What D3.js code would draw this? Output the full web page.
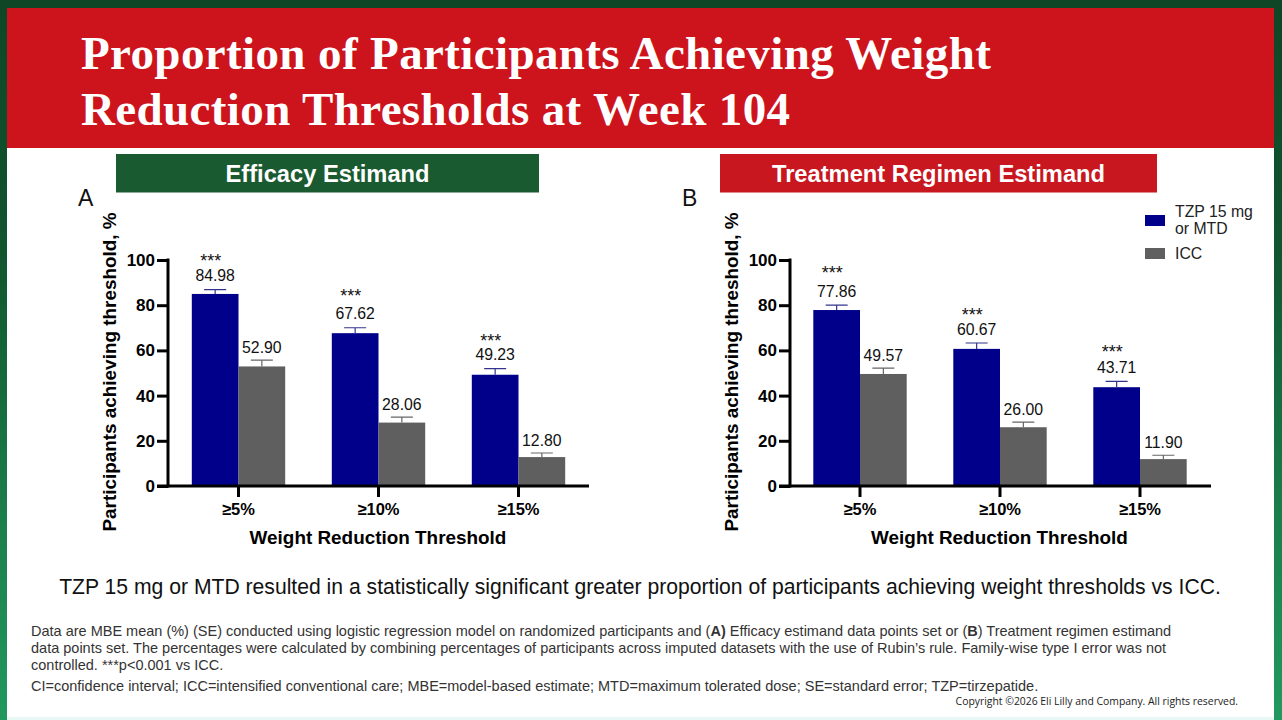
<!DOCTYPE html>
<html>
<head>
<meta charset="utf-8">
<script src="https://cdn.jsdelivr.net/npm/d3@7"></script>
<style>
html, body { margin: 0; padding: 0; background: #fff; overflow: hidden; }
svg { display: block; }
text { font-family: "Liberation Sans", Arial, sans-serif; }
</style>
</head>
<body>
<svg id="vis" width="1282" height="720"></svg>
<script>
const thresholds = ["≥5%", "≥10%", "≥15%"];
const yTicks = [0, 20, 40, 60, 80, 100];

const effTzp = [84.98, 67.62, 49.23];
const effIcc = [52.90, 28.06, 12.80];
const effTzpSe = [1.9, 2.4, 2.7];
const effIccSe = [2.8, 2.4, 1.8];

const regTzp = [77.86, 60.67, 43.71];
const regIcc = [49.57, 26.00, 11.90];
const regTzpSe = [2.2, 2.6, 2.6];
const regIccSe = [2.6, 2.3, 1.7];

const titleLines = ["Proportion of Participants Achieving Weight", "Reduction Thresholds at Week 104"];
const keyMessage = "TZP 15 mg or MTD resulted in a statistically significant greater proportion of participants achieving weight thresholds vs ICC.";
const abbreviations = "CI=confidence interval; ICC=intensified conventional care; MBE=model-based estimate; MTD=maximum tolerated dose; SE=standard error; TZP=tirzepatide.";
const copyright = "Copyright ©2026 Eli Lilly and Company. All rights reserved.";

const blue = "#00008b", grey = "#5f5f5f";
const svg = d3.select("#vis");

// frame
const defs = svg.append("defs");
const grad = defs.append("linearGradient").attr("id", "frame").attr("x1", 0).attr("x2", 0).attr("y1", 0).attr("y2", 1);
grad.append("stop").attr("offset", 0).attr("stop-color", "#0e4626");
grad.append("stop").attr("offset", 0.35).attr("stop-color", "#11552f");
grad.append("stop").attr("offset", 0.75).attr("stop-color", "#1b824d");
grad.append("stop").attr("offset", 1).attr("stop-color", "#21995e");
svg.append("rect").attr("width", 1282).attr("height", 720).attr("fill", "url(#frame)");
svg.append("rect").attr("x", 7).attr("y", 8).attr("width", 1267).attr("height", 710).attr("fill", "#fff");
svg.append("rect").attr("x", 7).attr("y", 717).attr("width", 1267).attr("height", 3).attr("fill", "#e8f8f4");
svg.append("rect").attr("x", 7).attr("y", 8).attr("width", 1267).attr("height", 140).attr("fill", "#cd141c");

svg.selectAll(".title").data(titleLines).join("text")
    .attr("class", "title")
    .attr("x", 81).attr("y", (d, i) => 69 + i * 56)
    .attr("fill", "#fff")
    .style("font-family", "'Liberation Serif', serif")
    .style("font-weight", "bold").style("font-size", "47px").style("letter-spacing", "0.38px")
    .text(d => d);

function banner(x, w, fill, label) {
    svg.append("rect").attr("x", x).attr("y", 154).attr("width", w).attr("height", 38.5).attr("fill", fill);
    svg.append("text").attr("x", x + w / 2).attr("y", 182).attr("text-anchor", "middle")
        .attr("fill", "#fff").style("font-weight", "bold").style("font-size", "23.7px").text(label);
}
banner(116, 423, "#1a5a30", "Efficacy Estimand");
banner(720, 437, "#c8171f", "Treatment Regimen Estimand");

function panel({letter, letterX, axisX, axisEnd, firstTick, tzp, icc, tzpSe, iccSe, starGap}) {
    const g = svg.append("g");
    const y = d3.scaleLinear().domain([0, 100]).range([486, 260]);
    const x = d3.scaleBand().domain(thresholds).range([firstTick - 70, firstTick + 350]);
    const inner = d3.scaleBand().domain(["tzp", "icc"]).range([-46.7, 46.7]);

    g.append("text").attr("x", letterX).attr("y", 206).style("font-size", "23px").attr("fill", "#111").text(letter);

    const groups = [["tzp", tzp, tzpSe, blue, 8.5], ["icc", icc, iccSe, grey, 7]];
    groups.forEach(([key, vals, se, color, labelGap]) => {
        const cx = i => x(thresholds[i]) + x.bandwidth() / 2 + inner(key);
        g.selectAll(".bar-" + key).data(vals).join("rect")
            .attr("x", (d, i) => cx(i)).attr("width", inner.bandwidth())
            .attr("y", d => y(d)).attr("height", d => y(0) - y(d)).attr("fill", color);
        const mid = i => cx(i) + inner.bandwidth() / 2;
        g.selectAll(".err-" + key).data(vals).join("path")
            .attr("d", (d, i) => {
                const top = y(d + se[i]);
                return `M${mid(i)},${y(d)}V${top}M${mid(i) - 11},${top}H${mid(i) + 11}`;
            })
            .attr("fill", "none").attr("stroke", key === "tzp" ? "#33338f" : "#666").attr("stroke-width", 1.2);
        g.selectAll(".val-" + key).data(vals).join("text")
            .attr("x", (d, i) => mid(i)).attr("y", (d, i) => y(d + se[i]) - labelGap)
            .attr("text-anchor", "middle").attr("fill", "#111").style("font-size", "15.8px")
            .text(d => d.toFixed(2));
        if (key === "tzp") {
            g.selectAll(".star").data(vals).join("text")
                .attr("x", (d, i) => mid(i) - 4.5).attr("y", (d, i) => y(d + se[i]) - labelGap - starGap[i] + 4)
                .attr("text-anchor", "middle").attr("fill", "#111").style("font-size", "18px")
                .text("***");
        }
    });

    const yAxis = g.append("g").attr("transform", `translate(${axisX},0)`)
        .call(d3.axisLeft(y).tickValues(yTicks).tickSize(11).tickPadding(2));
    yAxis.selectAll("path,line").attr("stroke", "#000").attr("stroke-width", 3);
    yAxis.selectAll("text").attr("fill", "#000").style("font-weight", "bold").style("font-size", "17px");
    yAxis.select(".domain").attr("d", `M0,${y(100) - 1.5}V${y(0) + 1.5}`);

    const xAxis = g.append("g").attr("transform", `translate(0,${y(0)})`)
        .call(d3.axisBottom(x).tickSize(11).tickPadding(6));
    xAxis.selectAll("path,line").attr("stroke", "#000").attr("stroke-width", 3);
    xAxis.selectAll("text").attr("fill", "#000").style("font-weight", "bold").style("font-size", "16.5px");
    xAxis.select(".domain").attr("d", `M${axisX - 11},0H${axisEnd}`);

    g.append("text").attr("transform", `translate(${axisX - 59},372) rotate(-90)`)
        .attr("text-anchor", "middle").attr("dy", "0.35em")
        .attr("fill", "#000").style("font-weight", "bold").style("font-size", "18.9px")
        .text("Participants achieving threshold, %");
    g.append("text").attr("x", firstTick + 139.5).attr("y", 544).attr("text-anchor", "middle")
        .attr("fill", "#000").style("font-weight", "bold").style("font-size", "18.9px")
        .text("Weight Reduction Threshold");
}

panel({letter: "A", letterX: 78, axisX: 168, axisEnd: 589, firstTick: 238.5,
    tzp: effTzp, icc: effIcc, tzpSe: effTzpSe, iccSe: effIccSe, starGap: [18, 21, 17]});
panel({letter: "B", letterX: 682, axisX: 790, axisEnd: 1211, firstTick: 860,
    tzp: regTzp, icc: regIcc, tzpSe: regTzpSe, iccSe: regIccSe, starGap: [22, 18, 19]});

// legend
svg.append("rect").attr("x", 1145).attr("y", 215).attr("width", 20).attr("height", 11).attr("fill", blue);
svg.append("rect").attr("x", 1145).attr("y", 248).attr("width", 20).attr("height", 11).attr("fill", grey);
[["TZP 15 mg", 217], ["or MTD", 234], ["ICC", 259]].forEach(([t, ty]) => {
    svg.append("text").attr("x", 1175).attr("y", ty).attr("fill", "#222").style("font-size", "15.8px").text(t);
});

svg.append("text").attr("x", 640).attr("y", 594).attr("text-anchor", "middle")
    .attr("fill", "#111").style("font-size", "21.15px").text(keyMessage);

// footnote
const noteLine = (y, fn) => {
    const t = svg.append("text").attr("x", 31).attr("y", y).attr("fill", "#333").style("font-size", "14.5px");
    fn(t);
};
noteLine(636, t => {
    t.append("tspan").text("Data are MBE mean (%) (SE) conducted using logistic regression model on randomized participants and (");
    t.append("tspan").style("font-weight", "bold").text("A)");
    t.append("tspan").text(" Efficacy estimand data points set or (");
    t.append("tspan").style("font-weight", "bold").text("B");
    t.append("tspan").text(") Treatment regimen estimand");
});
noteLine(653, t => t.text("data points set. The percentages were calculated by combining percentages of participants across imputed datasets with the use of Rubin’s rule. Family-wise type I error was not"));
noteLine(670, t => t.text("controlled. ***p<0.001 vs ICC."));
noteLine(691, t => t.text(abbreviations));

svg.append("text").attr("x", 1238).attr("y", 705).attr("text-anchor", "end").attr("fill", "#222")
    .style("font-family", "'Open Sans', sans-serif").style("font-size", "10.4px").text(copyright);
</script>
</body>
</html>
